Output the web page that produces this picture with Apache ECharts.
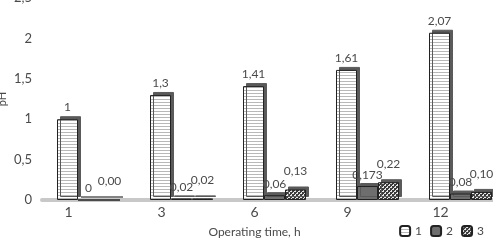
<!DOCTYPE html>
<html>
<head>
<meta charset="utf-8">
<script src="https://cdn.jsdelivr.net/npm/echarts@6/dist/echarts.min.js"></script>
<style>
  html, body { margin: 0; padding: 0; background: #fff; }
  #chart { width: 493px; height: 240px; }
</style>
</head>
<body>
<div id="chart"></div>
<script>
const hours = ['1', '3', '6', '9', '12']
const series1 = [1, 1.3, 1.41, 1.61, 2.07]
const series2 = [0, 0.02, 0.06, 0.173, 0.08]
const series3 = [0, 0.02, 0.13, 0.22, 0.10]

const comma = v => String(v).replace('.', ',')
const font = 'Lato, "Open Sans", sans-serif'
const textColor = '#4a4a4a'

// small repeating tiles for the bar fills
function stripes() {
  const c = document.createElement('canvas')
  c.width = 4
  c.height = 3
  const ctx = c.getContext('2d')
  ctx.fillStyle = '#ffffff'
  ctx.fillRect(0, 0, 4, 3)
  ctx.fillStyle = '#b8b8b8'
  ctx.fillRect(0, 0, 4, 1)
  return c
}
function dots() {
  const c = document.createElement('canvas')
  c.width = 4
  c.height = 4
  const ctx = c.getContext('2d')
  ctx.fillStyle = '#3c3c3c'
  ctx.fillRect(0, 0, 4, 4)
  ctx.fillStyle = '#e8e8e8'
  ctx.fillRect(0, 0, 2, 2)
  ctx.fillRect(2, 2, 2, 2)
  ctx.fillStyle = '#3c3c3c'
  ctx.fillRect(0, 0, 1, 1)
  ctx.fillRect(2, 2, 1, 1)
  return c
}

const depth = {
  shadowColor: '#5a5a5a',
  shadowOffsetX: 3,
  shadowOffsetY: -3,
  shadowBlur: 0
}

const chart = echarts.init(document.getElementById('chart'))
chart.setOption({
  animation: false,
  textStyle: { fontFamily: font },
  grid: { left: 42, right: -14, top: -2, bottom: 40, outerBoundsMode: 'none', containLabel: false },
  legend: {
    right: 4,
    bottom: -2,
    itemWidth: 10,
    itemHeight: 10,
    itemGap: 8,
    textStyle: { color: textColor, fontSize: 12, fontFamily: font },
    data: ['1', '2', '3']
  },
  xAxis: {
    type: 'category',
    data: hours,
    name: 'Operating time, h',
    nameLocation: 'middle',
    nameGap: 26,
    nameMoveOverlap: false,
    nameTextStyle: { color: textColor, fontSize: 12, padding: [0, 40, 0, 0] },
    axisTick: { show: false },
    axisLine: { lineStyle: { color: '#c8c8c8', width: 4 } },
    axisLabel: { color: textColor, fontSize: 14, margin: 5, padding: [0, 40, 0, 0] }
  },
  yAxis: {
    type: 'value',
    min: 0,
    max: 2.5,
    interval: 0.5,
    name: 'pH',
    nameLocation: 'middle',
    nameRotate: 90,
    nameGap: 34,
    nameMoveOverlap: false,
    nameTextStyle: { color: textColor, fontSize: 11 },
    splitLine: { show: false },
    axisLine: { show: false },
    axisTick: { show: false },
    axisLabel: { color: textColor, fontSize: 13, margin: 10, formatter: v => comma(v) }
  },
  series: [{
    name: '1',
    type: 'bar',
    data: series1,
    barWidth: 21,
    barGap: '0%',
    itemStyle: Object.assign({
      color: { image: stripes(), repeat: 'repeat' },
      borderColor: '#222',
      borderWidth: 1
    }, depth),
    label: { show: true, position: 'top', distance: 6, color: textColor, fontSize: 12, formatter: p => comma(p.value) }
  }, {
    name: '2',
    type: 'bar',
    data: series2,
    barWidth: 21,
    itemStyle: Object.assign({ color: '#6e6e6e', borderColor: '#222', borderWidth: 1 }, depth),
    label: { show: true, position: 'top', distance: 5, color: textColor, fontSize: 12, formatter: p => comma(p.value) }
  }, {
    name: '3',
    type: 'bar',
    data: series3,
    barWidth: 21,
    itemStyle: Object.assign({
      color: { image: dots(), repeat: 'repeat' },
      borderColor: '#222',
      borderWidth: 1
    }, depth),
    label: { show: true, position: 'top', distance: 12, color: textColor, fontSize: 12, formatter: p => comma(p.value.toFixed(2)) }
  }]
})
</script>
</body>
</html>
